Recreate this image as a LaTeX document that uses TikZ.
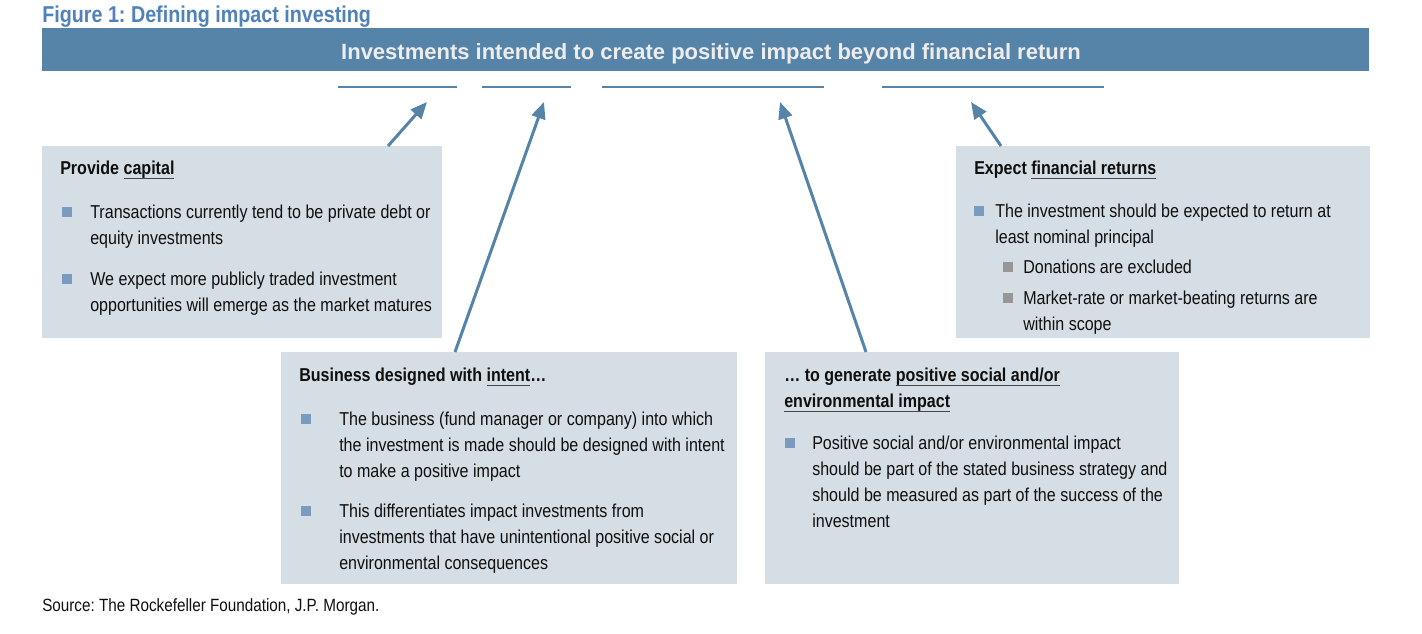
\documentclass[tikz,border=0pt]{standalone}
\usepackage{fontspec}
\setmainfont{Liberation Sans}
\newfontfamily\narrowsans{Liberation Sans}[FakeStretch=0.86]
\usepackage{xcolor}
\usepackage{tikz}
\usetikzlibrary{arrows.meta, calc}
\definecolor{bandblue}{RGB}{86,131,168}
\definecolor{figblue}{RGB}{79,129,186}
\definecolor{panelfill}{RGB}{214,222,229}
\definecolor{bulletblue}{RGB}{122,154,190}
\definecolor{bulletgray}{RGB}{150,150,150}
\definecolor{ulgray}{RGB}{70,70,70}
\definecolor{inkblack}{RGB}{15,15,15}
\newcommand\boxfont{\narrowsans\fontsize{14}{19.5}\selectfont}
\newcommand\ulword[1]{\setbox0\hbox{#1}\rlap{\color{ulgray}\rule[-3.6pt]{\wd0}{0.9pt}}\box0}
\frenchspacing

\begin{document}
\begin{tikzpicture}[
  x=0.75pt, y=-0.75pt,
  panel/.style={
    rectangle, fill=panelfill,
    inner sep=0pt, anchor=north west
  },
  txt/.style={
    anchor=north west, inner sep=0pt,
    align=left, text=inkblack,
    font=\boxfont, execute at begin node=\strut
  },
  head/.style={txt, font=\boxfont\bfseries},
  sq/.style={rectangle, fill=bulletblue, inner sep=0pt, minimum size=7pt},
  subsq/.style={sq, fill=bulletgray},
  arrow/.style={-{Triangle[length=12.5pt,width=10.5pt]}, line width=2.25pt, bandblue}
]

\useasboundingbox (0,0) rectangle (1422,634);

% heading and banner
\node[anchor=base west, inner sep=0pt, text=figblue,
      font=\narrowsans\fontsize{17.2}{20}\selectfont\bfseries]
  (fig) at (42,23) {Figure 1: Defining impact investing};
\node[panel, fill=bandblue, minimum width=995.25pt, minimum height=32.25pt] (band) at (42,28) {};
\node[anchor=base, inner sep=0pt, text=white!93!black,
      font=\fontsize{16.5}{20}\selectfont\bfseries]
  (bandtxt) at (711,60) {Investments intended to create positive impact beyond financial return};

% key words of the banner
\foreach \a/\b in {338/457, 482/571, 602/824, 882/1104}
  \draw[bandblue, line width=1.5pt] (\a,87) -- (\b,87);

% the four panels
\node[panel, minimum width=300pt,   minimum height=144pt] (cap)    at (42,146)  {};
\node[panel, minimum width=310.5pt, minimum height=144pt] (ret)    at (956,146) {};
\node[panel, minimum width=342pt,   minimum height=174pt] (intent) at (281,352) {};
\node[panel, minimum width=310.5pt, minimum height=174pt] (impact) at (765,352) {};

% capital
\node[head] (caph) at (60,155.8) {Provide \ulword{capital}};
\node[sq]  (capb1) at (67,212) {};
\node[txt] (capt1) at (90,204.8) {Transactions currently tend to be private debt or\\equity investments};
\node[sq]  (capb2) at (67,279) {};
\node[txt] (capt2) at (90,271.8) {We expect more publicly traded investment\\opportunities will emerge as the market matures};

% returns
\node[head] (reth) at (974,155.8) {Expect \ulword{financial returns}};
\node[sq]  (retb1) at (979,211) {};
\node[txt] (rett1) at (995,203.8) {The investment should be expected to return at\\least nominal principal};
\node[subsq] (rets1) at (1008,267) {};
\node[txt] (retu1) at (1023,254.8) {Donations are excluded};
\node[subsq] (rets2) at (1008,298) {};
\node[txt] (retu2) at (1023,290.8) {Market-rate or market-beating returns are\\within scope};

% intent
\node[head] (inth) at (299,362.8) {Business designed with \ulword{intent}…};
\node[sq]  (intb1) at (306,419) {};
\node[txt] (intt1) at (339,411.8) {The business (fund manager or company) into which\\the investment is made should be designed with intent\\to make a positive impact};
\node[sq]  (intb2) at (306,511) {};
\node[txt] (intt2) at (339,503.8) {This differentiates impact investments from\\investments that have unintentional positive social or\\environmental consequences};

% impact
\node[head] (imph) at (784,367.8) {… to generate \ulword{positive social and/or}\\\ulword{environmental impact}};
\node[sq]  (impb1) at (790,443) {};
\node[txt] (impt1) at (812,435.8) {Positive social and/or environmental impact\\should be part of the stated business strategy and\\should be measured as part of the success of the\\investment};

% arrows up to the banner
\coordinate (capt) at (427,102);
\coordinate (intt) at (544,102);
\coordinate (impt) at (780,102);
\coordinate (rett) at (971,102);
\draw[arrow] ($(cap.north west)+(346,0)$)    -- (capt);
\draw[arrow] ($(intent.north west)+(174,0)$) -- (intt);
\draw[arrow] ($(impact.north west)+(101,0)$) -- (impt);
\draw[arrow] ($(ret.north west)+(45,0)$)     -- (rett);

\node[anchor=base west, inner sep=0pt, text=inkblack,
      font=\narrowsans\fontsize{13.3}{16}\selectfont]
  (src) at (42,611) {Source: The Rockefeller Foundation, J.P. Morgan.};

\end{tikzpicture}
\end{document}
